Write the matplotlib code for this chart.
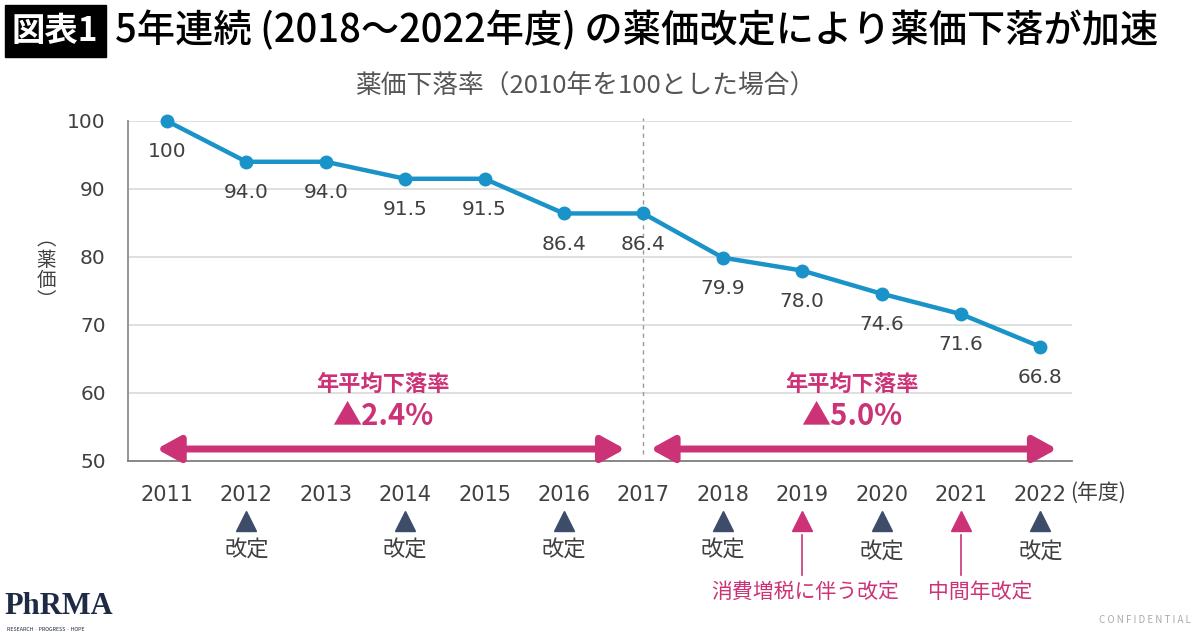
import numpy as np
import matplotlib.pyplot as plt
from matplotlib.patches import Rectangle

plt.rcParams['font.family'] = ['Noto Sans CJK JP', 'DejaVu Sans']
NUMFONT = ['DejaVu Sans']

# data
years = [2011, 2012, 2013, 2014, 2015, 2016, 2017, 2018, 2019, 2020, 2021, 2022]
price_index = [100, 94.0, 94.0, 91.5, 91.5, 86.4, 86.4, 79.9, 78.0, 74.6, 71.6, 66.8]
yticks = [50, 60, 70, 80, 90, 100]
revision_years = [2012, 2014, 2016, 2018, 2020, 2022]
special_years = [2019, 2021]
special_labels = ['消費増税に伴う改定', '中間年改定']
period_split = 2017
avg_rates = ['▲2.4%', '▲5.0%']

LINE = '#1a93c9'
PINK = '#cc3376'
NAVY = '#3d4c68'
TXT = '#404040'

fig = plt.figure(figsize=(12, 6.36), dpi=100)
ax = fig.add_axes([0.1067, 0.2752, 0.7867, 0.5346])

ax.plot(years, price_index, color=LINE, lw=3.2, marker='o', ms=9,
        markeredgecolor=LINE, clip_on=False, zorder=5)
for x, v in zip(years, price_index):
    lab = '100' if v == 100 else f'{v:.1f}'
    ax.annotate(lab, (x, v), xytext=(0, -22), textcoords='offset points',
                ha='center', va='center', fontsize=14.5, color=TXT,
                family=NUMFONT)

ax.set_xlim(2010.51, 2022.4)
ax.set_ylim(50, 100)
ax.set_yticks(yticks)
ax.set_yticklabels([str(v) for v in yticks], family=NUMFONT, fontsize=14.5)
ax.set_xticks(years)
ax.set_xticklabels([str(y) for y in years], family=NUMFONT, fontsize=15)
ax.grid(axis='y', color='#d9d9d9', lw=1.2)
ax.set_axisbelow(True)
ax.tick_params(axis='both', length=0, labelcolor=TXT)
ax.tick_params(axis='x', pad=17)
ax.tick_params(axis='y', pad=16)
for s in ['top', 'right']:
    ax.spines[s].set_visible(False)
ax.spines['left'].set_color('#8c8c8c')
ax.spines['bottom'].set_color('#7f7f7f')
ax.spines['left'].set_linewidth(1.3)
ax.spines['bottom'].set_linewidth(1.3)

# split line
ax.plot([period_split, period_split], [51, 100.5], color='#999999', lw=1,
        ls=(0, (3, 3)), clip_on=False, zorder=2)

# arrows for the two periods
ay = 51.76
for x0, x1 in [(2010.87, 2016.77), (2017.09, 2022.21)]:
    ax.annotate('', xy=(x1, ay), xytext=(x0, ay),
                arrowprops=dict(arrowstyle='<|-|>,head_length=1.0,head_width=0.55',
                                mutation_scale=14, color=PINK, lw=5,
                                shrinkA=0, shrinkB=0))
for cx, rate in zip([2013.72, 2019.63], avg_rates):
    ax.text(cx, 61.2, '年平均下落率', ha='center', va='center', fontsize=16,
            color=PINK, fontweight='bold')
    ax.text(cx, 56.6, rate, ha='center', va='center', fontsize=21,
            color=PINK, fontweight='bold')

# revision markers under the axis
tr = ax.get_xaxis_transform()
ax.plot(revision_years, [-0.176] * len(revision_years), '^',
        color=NAVY, ms=15, transform=tr, clip_on=False)
ax.plot(special_years, [-0.176] * len(special_years), '^', color=PINK, ms=15,
        transform=tr, clip_on=False)
for x in revision_years:
    yy = -0.262 if x < 2019 else -0.268
    ax.text(x, yy, '改定', transform=tr, ha='center', va='center',
            fontsize=16, color=TXT)
for x in special_years:
    ax.plot([x, x], [-0.218, -0.335], color=PINK, lw=1.2, transform=tr,
            clip_on=False)
for x, lab in zip([2019.04, 2021.24], special_labels):
    ax.text(x, -0.385, lab, transform=tr, ha='center', va='center',
            fontsize=15, color=PINK)
ax.text(0.998, -0.095, '(年度)', transform=ax.transAxes, ha='left',
        va='center', fontsize=15, color=TXT)

# y label
fig.text(0.0383, 0.575, '︵\n薬\n価\n︶', ha='center', va='center',
         fontsize=14, color=TXT, linespacing=0.95)

# title
fig.patches.append(Rectangle((0.004, 0.910), 0.084, 0.082,
                             transform=fig.transFigure, color='black'))
fig.text(0.046, 0.951, '図表1', ha='center', va='center', fontsize=24,
         color='white', fontweight='bold')
fig.text(0.096, 0.951, '5年連続 (2018〜2022年度) の薬価改定により薬価下落が加速',
         ha='left', va='center', fontsize=27.5, color='black', fontweight='medium')
fig.text(0.488, 0.866, '薬価下落率（2010年を100とした場合）', ha='center',
         va='center', fontsize=18.5, color='#555555')

# footer
fig.text(0.004, 0.047, 'PhRMA', ha='left', va='center', fontsize=22,
         family='Liberation Serif', fontweight='bold', color='#1f2a44')
fig.text(0.006, 0.010, 'RESEARCH · PROGRESS · HOPE', ha='left', va='center',
         fontsize=3.8, color='#1f2a44')
fig.text(0.992, 0.025, 'C O N F I D E N T I A L', ha='right', va='center',
         fontsize=7, color='#aaaaaa')

fig.savefig('out.png', dpi=100)
